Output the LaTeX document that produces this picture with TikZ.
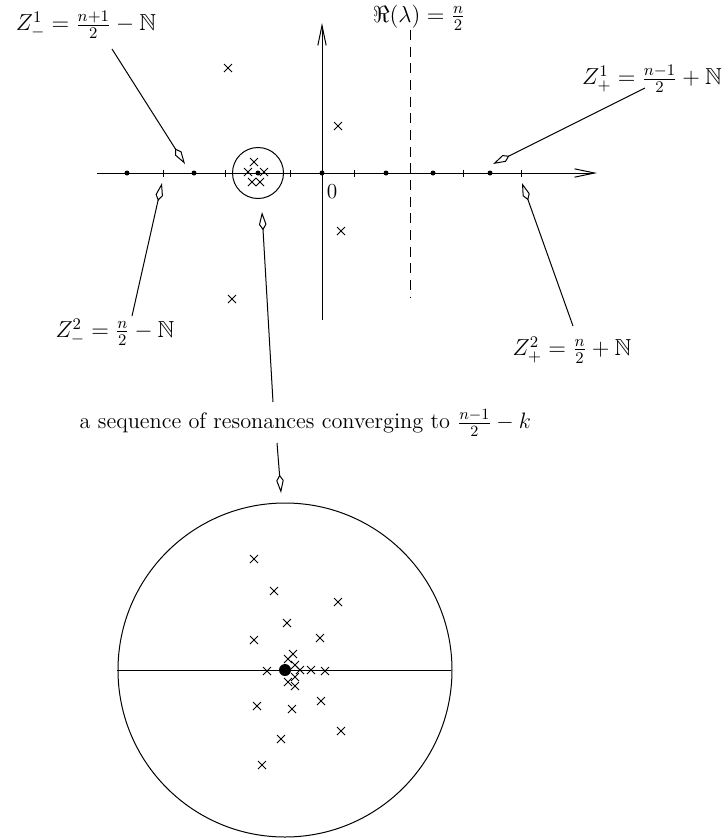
\RequirePackage{fix-cm}
\documentclass[tikz,border=0pt]{standalone}
\usepackage{amsmath}
\usepackage{amssymb}
\usetikzlibrary{arrows.meta,shapes.misc}

\tikzset{
  res/.style={cross out, draw, minimum size=4.2pt, inner sep=0pt},
  pole/.style={circle, fill, inner sep=0pt, minimum size=3pt},
  bigpole/.style={circle, fill, inner sep=0pt, minimum size=7.2pt},
  pointer/.style={-{Kite[open,length=11pt,width=4.5pt,inset=3.5pt]}},
  axis/.style={-{Straight Barb[length=12pt,width=5pt]}},
  setlabel/.style={font=\fontsize{13.9}{16}\selectfont},
}

\begin{document}
\begin{tikzpicture}[x=0.6pt, y=-0.6pt, line width=0.6pt]
  \useasboundingbox (0,0) rectangle (728,838);
  % axes and the line Re = n/2
  \coordinate (xl) at (97,173);
  \coordinate (xr) at (597,173);
  \coordinate (yb) at (322,320);
  \coordinate (yt) at (322,23);
  \draw[axis] (xl) -- (xr);
  \draw[axis] (yb) -- (yt);
  \coordinate (dt) at (410,30);
  \coordinate (db) at (410,297);
  \draw[dash pattern=on 6pt off 4pt] (dt) -- (db);
  \node[setlabel] (re) at (419,18) {$\Re(\lambda) = \frac{n}{2}$};
  \node[font=\fontsize{12.8}{15}\selectfont] (zero) at (332,192) {0};
  % ticks and points on the real line
  \foreach \x in {163,225,290,354,463,521}
    \draw (\x,169.5) -- (\x,176.5);
  \foreach \x [count=\i] in {127,194,258,322,386,433,490}
    \node[pole] (p\i) at (\x,173) {};
  % resonances
  \foreach \x/\y [count=\i] in {228/68,338/126,341/231,232/299,
      254/162,248/172,264/172,252/182,260/182}
    \node[res] (r\i) at (\x,\y) {};
  \draw (p3) circle (25.5);
  % labels
  \node[setlabel] (zm1) at (86,25) {$Z^1_- = \frac{n+1}{2} - \mathbb{N}$};
  \node[setlabel] (zm2) at (115,332) {$Z^2_- = \frac{n}{2} - \mathbb{N}$};
  \node[setlabel] (zp1) at (652,79) {$Z^1_+ = \frac{n-1}{2} + \mathbb{N}$};
  \node[setlabel] (zp2) at (572,350) {$Z^2_+ = \frac{n}{2} + \mathbb{N}$};
  \node[anchor=east, font=\fontsize{13.4}{16}\selectfont] (seq) at (537,423)
    {a sequence of resonances converging to $\frac{n-1}{2} - k$};
  \coordinate (zm1s) at (112,49);
  \coordinate (zm1t) at (185,164);
  \coordinate (zm2s) at (132,316);
  \coordinate (zm2t) at (162,183);
  \coordinate (zp1s) at (645,88);
  \coordinate (zp1t) at (493,164);
  \coordinate (zp2s) at (573,326);
  \coordinate (zp2t) at (522,183);
  \coordinate (seqa) at (273,402);
  \coordinate (seqb) at (262,212);
  \coordinate (seqc) at (277,443);
  \coordinate (seqd) at (281,493);
  \draw[pointer] (zm1s) -- (zm1t);
  \draw[pointer] (zm2s) -- (zm2t);
  \draw[pointer] (zp1s) -- (zp1t);
  \draw[pointer] (zp2s) -- (zp2t);
  \draw[pointer] (seqa) -- (seqb);
  \draw[pointer] (seqc) -- (seqd);
  % the zoomed disc
  \node[bigpole] (c) at (285,670) {};
  \draw (c) circle (167);
  \draw (117,670) -- (451,670);
  \foreach \x/\y [count=\i] in {254/559,274/591,338/602,287/623,254/640,
      320/638,293/654,288/659,295/665,267/671,300/670,311/670,325/671,
      295/677,288/682,295/686,257/706,292/709,321/701,341/731,281/739,262/765}
    \node[res] (s\i) at (\x,\y) {};
\end{tikzpicture}
\end{document}
